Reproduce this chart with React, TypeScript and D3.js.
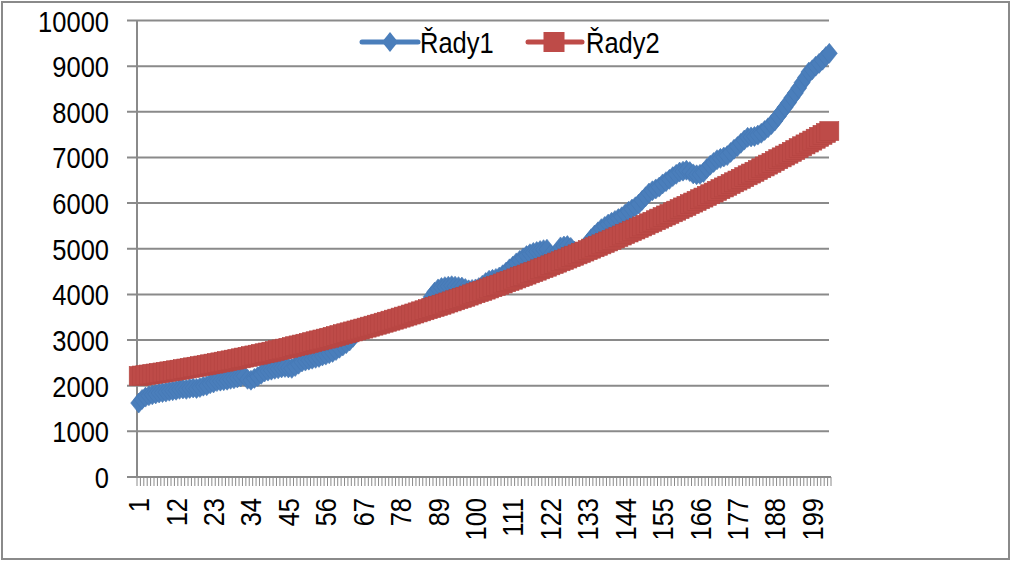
import React from "react";
import * as d3 from "d3";

const categories: string[] = Array.from({ length: 204 }, (_, i) => String(i + 1));

const xTickLabels = ["1", "12", "23", "34", "45", "56", "67", "78", "89", "100", "111", "122", "133", "144", "155", "166", "177", "188", "199"];
const yTicks = [0, 1000, 2000, 3000, 4000, 5000, 6000, 7000, 8000, 9000, 10000];
const seriesNames = ["Řady1", "Řady2"];

const rady1 = [
  1620, 1700, 1750, 1780, 1800, 1820, 1840, 1850, 1860, 1880,
  1890, 1900, 1920, 1930, 1920, 1940, 1950, 1940, 1960, 1990,
  2000, 2040, 2060, 2090, 2100, 2110, 2120, 2140, 2150, 2170,
  2190, 2210, 2140, 2120, 2160, 2200, 2250, 2300, 2320, 2340,
  2360, 2370, 2390, 2400, 2390, 2380, 2420, 2470, 2520, 2540,
  2560, 2580, 2600, 2620, 2650, 2670, 2700, 2730, 2770, 2820,
  2870, 2920, 2980, 3060, 3150, 3200, 3230, 3250, 3270, 3290,
  3310, 3330, 3350, 3370, 3390, 3420, 3440, 3460, 3490, 3520,
  3550, 3580, 3620, 3660, 3720, 3820, 3950, 4050, 4120, 4150,
  4170, 4180, 4190, 4180, 4170, 4160, 4130, 4100, 4110, 4120,
  4150, 4200, 4260, 4310, 4330, 4350, 4380, 4430, 4490, 4560,
  4620, 4690, 4745, 4800, 4850, 4890, 4920, 4940, 4960, 4980,
  4990, 4870, 4830, 4930, 5040, 5060, 5070, 5030, 4950, 4900,
  4950, 5030, 5120, 5220, 5300, 5370, 5440, 5490, 5540, 5580,
  5620, 5660, 5700, 5760, 5820, 5870, 5920, 5980, 6060, 6140,
  6220, 6270, 6310, 6350, 6420, 6470, 6520, 6580, 6630, 6680,
  6700, 6720, 6690, 6640, 6620, 6630, 6670, 6760, 6830, 6890,
  6950, 6980, 7010, 7040, 7110, 7180, 7240, 7310, 7380, 7440,
  7450, 7460, 7490, 7530, 7590, 7650, 7720, 7800, 7900, 8000,
  8100, 8200, 8310, 8410, 8520, 8640, 8750, 8870, 8920, 9000,
  9060, 9130, 9210, 9280,
];

const rady2 = [
  2212, 2223, 2234, 2245, 2256, 2267, 2278, 2290, 2302, 2314,
  2326, 2338, 2350, 2363, 2376, 2389, 2402, 2415, 2428, 2442,
  2455, 2469, 2483, 2497, 2511, 2526, 2540, 2555, 2570, 2585,
  2600, 2616, 2631, 2647, 2663, 2679, 2695, 2711, 2727, 2744,
  2761, 2778, 2795, 2812, 2829, 2847, 2865, 2883, 2901, 2919,
  2937, 2955, 2974, 2993, 3012, 3031, 3050, 3070, 3089, 3109,
  3129, 3149, 3169, 3189, 3210, 3231, 3251, 3272, 3293, 3315,
  3336, 3358, 3380, 3401, 3424, 3446, 3468, 3491, 3513, 3536,
  3559, 3582, 3606, 3629, 3653, 3677, 3700, 3725, 3749, 3773,
  3798, 3823, 3847, 3872, 3898, 3923, 3948, 3974, 4000, 4026,
  4052, 4078, 4105, 4131, 4158, 4185, 4212, 4239, 4267, 4294,
  4322, 4350, 4378, 4406, 4434, 4463, 4491, 4520, 4549, 4578,
  4607, 4637, 4666, 4696, 4726, 4756, 4786, 4816, 4847, 4877,
  4908, 4939, 4970, 5002, 5033, 5065, 5096, 5128, 5160, 5192,
  5225, 5257, 5290, 5323, 5356, 5389, 5422, 5456, 5489, 5523,
  5557, 5591, 5625, 5660, 5694, 5729, 5764, 5799, 5834, 5869,
  5905, 5940, 5976, 6012, 6048, 6085, 6121, 6158, 6194, 6231,
  6268, 6305, 6343, 6380, 6418, 6456, 6494, 6532, 6570, 6609,
  6647, 6686, 6725, 6764, 6803, 6843, 6882, 6922, 6962, 7002,
  7042, 7082, 7123, 7163, 7204, 7245, 7286, 7327, 7369, 7410,
  7452, 7494, 7536, 7578,
];

const W = 1012;
const H = 561;
const PLOT_L = 137;
const PLOT_R = 831;
const PLOT_T = 20.5;
const PLOT_B = 477;
const GRID = "#8a8a8a";
const BLUE = "#4a7ebb";
const BLUE_EDGE = "#4577b4";
const RED = "#be4b48";
const RED_EDGE = "#b44441";
const FONT = "'Liberation Sans', Arial, sans-serif";
const SX = 0.85;

export default function App() {
  const x = d3.scaleBand<string>().domain(categories).range([PLOT_L, PLOT_R]).padding(0);
  const bw = x.bandwidth();
  const cx = (c: string) => (x(c) as number) + bw / 2;
  const y = d3.scaleLinear().domain([0, 10000]).range([PLOT_B, PLOT_T]);

  const line = d3
    .line<number>()
    .x((_, i) => cx(categories[i]))
    .y((v) => y(v));

  const diamond = "M0,-10L8,0L0,10L-8,0Z";
  const sq = 19;

  const tickXs: number[] = categories.map((c) => x(c) as number).concat([PLOT_R]);

  return (
    <svg
      width={W}
      height={H}
      style={{ position: "absolute", left: 0, top: 0, background: "#fff" }}
      fontFamily={FONT}
    >
      <rect x={0} y={0} width={W} height={H} fill="#fff" />
      <rect x={2} y={2} width={1007} height={557} fill="none" stroke={GRID} strokeWidth={2} />

      {yTicks.map((t) => (
        <line key={"g" + t} x1={127} x2={t === 0 ? PLOT_R : 829} y1={y(t)} y2={y(t)} stroke={GRID} strokeWidth={2} />
      ))}
      <line x1={PLOT_L} x2={PLOT_L} y1={y(10000)} y2={y(0)} stroke={GRID} strokeWidth={2} />
      {tickXs.map((tx, i) => (
        <line key={"t" + i} x1={tx} x2={tx} y1={y(0)} y2={y(0) + 9} stroke={GRID} strokeWidth={1} />
      ))}

      {yTicks.map((t) => (
        <text
          key={"yl" + t}
          transform={`translate(109,${y(t) + 11}) scale(${SX},1)`}
          textAnchor="end"
          fontSize={30}
          fill="#000"
        >
          {String(t)}
        </text>
      ))}

      {xTickLabels.map((lab) => (
        <text
          key={"xl" + lab}
          transform={`translate(${cx(lab) + 10.5},498) rotate(-90) scale(${SX},1)`}
          textAnchor="end"
          fontSize={30}
          fill="#000"
        >
          {lab}
        </text>
      ))}

      <path d={line(rady1) || ""} fill="none" stroke={BLUE} strokeWidth={5} strokeLinejoin="round" />
      {rady1.map((v, i) => (
        <path
          key={"b" + i}
          d={diamond}
          transform={`translate(${cx(categories[i])},${y(v)})`}
          fill={BLUE}
          stroke={BLUE_EDGE}
          strokeWidth={0.6}
        />
      ))}

      <path d={line(rady2) || ""} fill="none" stroke={RED} strokeWidth={5} strokeLinejoin="round" />
      {rady2.map((v, i) => (
        <rect
          key={"r" + i}
          x={cx(categories[i]) - sq / 2}
          y={y(v) - sq / 2}
          width={sq}
          height={sq}
          fill={RED}
          stroke={RED_EDGE}
          strokeWidth={0.6}
        />
      ))}

      <g>
        <line x1={362} x2={418} y1={42} y2={42} stroke={BLUE} strokeWidth={5} strokeLinecap="round" />
        <path d={diamond} transform="translate(390,42)" fill={BLUE} />
        <text transform={`translate(420,53) scale(${SX},1)`} fontSize={30} fill="#000">
          {seriesNames[0]}
        </text>
        <line x1={528} x2={582} y1={42} y2={42} stroke={RED} strokeWidth={5} strokeLinecap="round" />
        <rect x={554 - 10.5} y={42 - 10} width={21} height={20} fill={RED} />
        <text transform={`translate(586,53) scale(${SX},1)`} fontSize={30} fill="#000">
          {seriesNames[1]}
        </text>
      </g>
    </svg>
  );
}
